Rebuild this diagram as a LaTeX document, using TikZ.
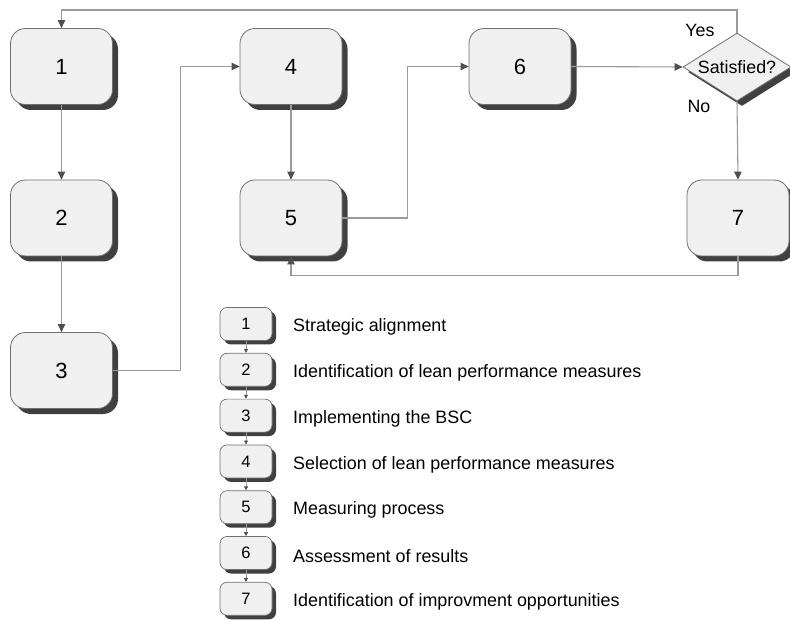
\documentclass[tikz,border=0pt]{standalone}
\usepackage{fontspec}
\setmainfont{Liberation Sans}
\usetikzlibrary{arrows.meta,shadows,shapes.geometric,calc}
\definecolor{boxfill}{HTML}{F0F0F0}
\definecolor{boxdraw}{HTML}{707070}
\definecolor{shadowc}{HTML}{404040}
\definecolor{linec}{HTML}{9A9A9A}
\definecolor{tipc}{HTML}{505050}
\begin{document}
\begin{tikzpicture}[x=1pt,y=-1pt,
  stepbox/.style={draw=boxdraw, line width=0.8pt, fill=boxfill, rounded corners=15pt,
    minimum width=102pt, minimum height=76pt, inner sep=0pt,
    font=\fontsize{22}{26}\selectfont,
    drop shadow={opacity=1, fill=shadowc, shadow xshift=5.5pt, shadow yshift=-5.5pt}},
  legbox/.style={draw=boxdraw, line width=0.7pt, fill=boxfill, rounded corners=7pt,
    minimum width=52pt, minimum height=33pt, inner sep=0pt,
    font=\fontsize{16.5}{19}\selectfont,
    drop shadow={opacity=1, fill=shadowc, shadow xshift=4pt, shadow yshift=-4pt}},
  decbox/.style={diamond, draw=boxdraw, line width=0.8pt, fill=boxfill, aspect=1.6,
    minimum width=108pt, minimum height=68pt, inner sep=0pt,
    font=\fontsize{17.8}{21}\selectfont,
    drop shadow={opacity=1, fill=shadowc, shadow xshift=5pt, shadow yshift=-5pt}},
  lbl/.style={font=\fontsize{17.8}{21}\selectfont, inner sep=0pt},
  legtext/.style={font=\fontsize{17.9}{21}\selectfont, inner sep=0pt, anchor=west},
  conn/.style={draw=linec, line width=1.1pt, -{Triangle[length=8pt,width=7.5pt,color=tipc]}},
  legconn/.style={draw=linec, line width=0.8pt, -{Triangle[length=4pt,width=4pt,color=tipc]}}
]
\useasboundingbox (0,0) rectangle (790,620);

% main process boxes
\node[stepbox] (b1) at (61.5,66.5) {1};
\node[stepbox] (b2) at (61.5,218) {2};
\node[stepbox] (b3) at (61.5,370.5) {3};
\node[stepbox] (b4) at (291,66.5) {4};
\node[stepbox] (b5) at (291,218) {5};
\node[stepbox] (b6) at (520,66.5) {6};
\node[stepbox] (b7) at (738,218) {7};
\node[decbox] (dia) at (737,67) {Satisfied?};

\node[lbl] (yes) at (700,30) {Yes};
\node[lbl] (no) at (699,106) {No};

\coordinate (tp) at (61.5,10);

% connectors
\draw[conn] (dia.north) |- (tp) -- (b1.north);
\draw[conn] (b1.south) -- (b2.north);
\draw[conn] (b2.south) -- (b3.north);
\draw[conn] (b3.east) -- ++(67.5,0) |- (b4.west);
\draw[conn] (b4.south) -- (b5.north);
\draw[conn] (b5.east) -- ++(65.5,0) |- (b6.west);
\draw[conn] (b6.east) -- (dia.west);
\draw[conn] (dia.south) -- (b7.north);
\draw[conn] (b7.south) -- ++(0,19) -| (b5.south);

% legend
\foreach \i/\t in {1/Strategic alignment,
                   2/Identification of lean performance measures,
                   3/Implementing the BSC,
                   4/Selection of lean performance measures,
                   5/Measuring process,
                   6/Assessment of results,
                   7/Identification of improvment opportunities}{
  \node[legbox] (l\i) at (246,{324+45.8*(\i-1)}) {\i};
  \node[legtext] (t\i) at (293,{327+45.8*(\i-1)}) {\t};
}
\foreach \i [evaluate=\i as \j using int(\i+1)] in {1,...,6}{
  \draw[legconn] (l\i.south) -- (l\j.north);
}
\end{tikzpicture}
\end{document}
